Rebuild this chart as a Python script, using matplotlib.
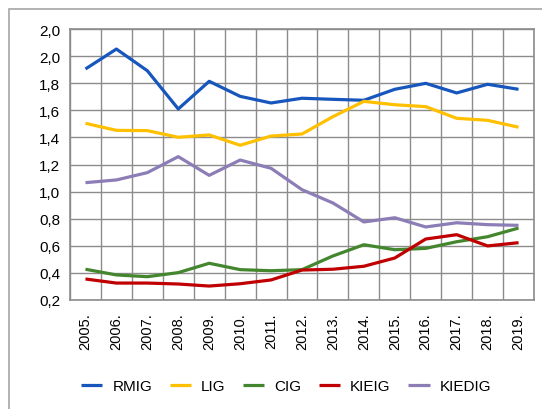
import matplotlib.pyplot as plt
import numpy as np
from matplotlib.patches import Rectangle

# Datos
anios = ["2005.", "2006.", "2007.", "2008.", "2009.", "2010.", "2011.", "2012.",
         "2013.", "2014.", "2015.", "2016.", "2017.", "2018.", "2019."]

rmig = [1.905, 2.052, 1.892, 1.610, 1.814, 1.703, 1.654, 1.689, 1.681, 1.674,
        1.755, 1.799, 1.728, 1.792, 1.755]
lig = [1.504, 1.452, 1.450, 1.401, 1.418, 1.342, 1.410, 1.425, 1.553, 1.666,
       1.641, 1.627, 1.541, 1.526, 1.475]
cig = [0.427, 0.385, 0.372, 0.402, 0.471, 0.424, 0.416, 0.424, 0.525, 0.608,
       0.571, 0.581, 0.630, 0.667, 0.731]
kieig = [0.355, 0.325, 0.325, 0.318, 0.303, 0.320, 0.348, 0.421, 0.427, 0.449,
         0.510, 0.650, 0.682, 0.599, 0.623]
kiedig = [1.066, 1.086, 1.140, 1.258, 1.120, 1.233, 1.172, 1.014, 0.916, 0.776,
          0.807, 0.739, 0.770, 0.756, 0.751]

y_ticks = [0.2, 0.4, 0.6, 0.8, 1.0, 1.2, 1.4, 1.6, 1.8, 2.0, 2.2]
y_labels = ["0,2", "0,4", "0,6", "0,8", "1,0", "1,2", "1,4", "1,6", "1,8", "2,0", "2,0"]

series = [("RMIG", rmig, "#1757BD"),
          ("LIG", lig, "#FFC000"),
          ("CIG", cig, "#43862E"),
          ("KIEIG", kieig, "#C00000"),
          ("KIEDIG", kiedig, "#8C7DB6")]

plt.rcParams['font.family'] = ['Liberation Sans', 'DejaVu Sans']

fig = plt.figure(figsize=(5.42, 4.10), dpi=100)
ax = fig.add_axes([70 / 542, 1 - 301 / 410, 464 / 542, 271 / 410])

# marco exterior
fig.patches.append(Rectangle((9 / 542, -0.05), 1.0, 1 - 10 / 410 + 0.05,
                             transform=fig.transFigure, fill=False,
                             edgecolor="#A6A6A6", linewidth=1.2))

x = np.arange(len(anios))
for nombre, vals, color in series:
    ax.plot(x, vals, color=color, linewidth=2.3, label=nombre, solid_capstyle="butt")

ax.set_xlim(-0.5, len(anios) - 0.5)
ax.set_ylim(0.2, 2.2)
ax.set_yticks(y_ticks)
ax.set_yticklabels(y_labels, fontsize=11)
ax.set_xticks(x)
ax.set_xticklabels(anios, rotation=90, fontsize=10.5)
ax.set_xticks(np.arange(-0.5, len(anios), 1.0), minor=True)
ax.tick_params(axis="both", which="both", length=0, colors="black")
ax.tick_params(axis="y", pad=7)
ax.tick_params(axis="x", pad=9)

ax.grid(True, which="major", axis="y", color="#8C8C8C", linewidth=1)
ax.grid(True, which="minor", axis="x", color="#8C8C8C", linewidth=1)
ax.set_axisbelow(True)
for s in ax.spines.values():
    s.set_color("#8C8C8C")
    s.set_linewidth(1.2)

fig.legend(loc="center", bbox_to_anchor=(286 / 542, 1 - 387 / 410), ncol=5,
           frameon=False, fontsize=11, handlelength=1.4, columnspacing=1.15,
           handletextpad=0.65)

plt.savefig("out.png", dpi=100)
plt.close()
